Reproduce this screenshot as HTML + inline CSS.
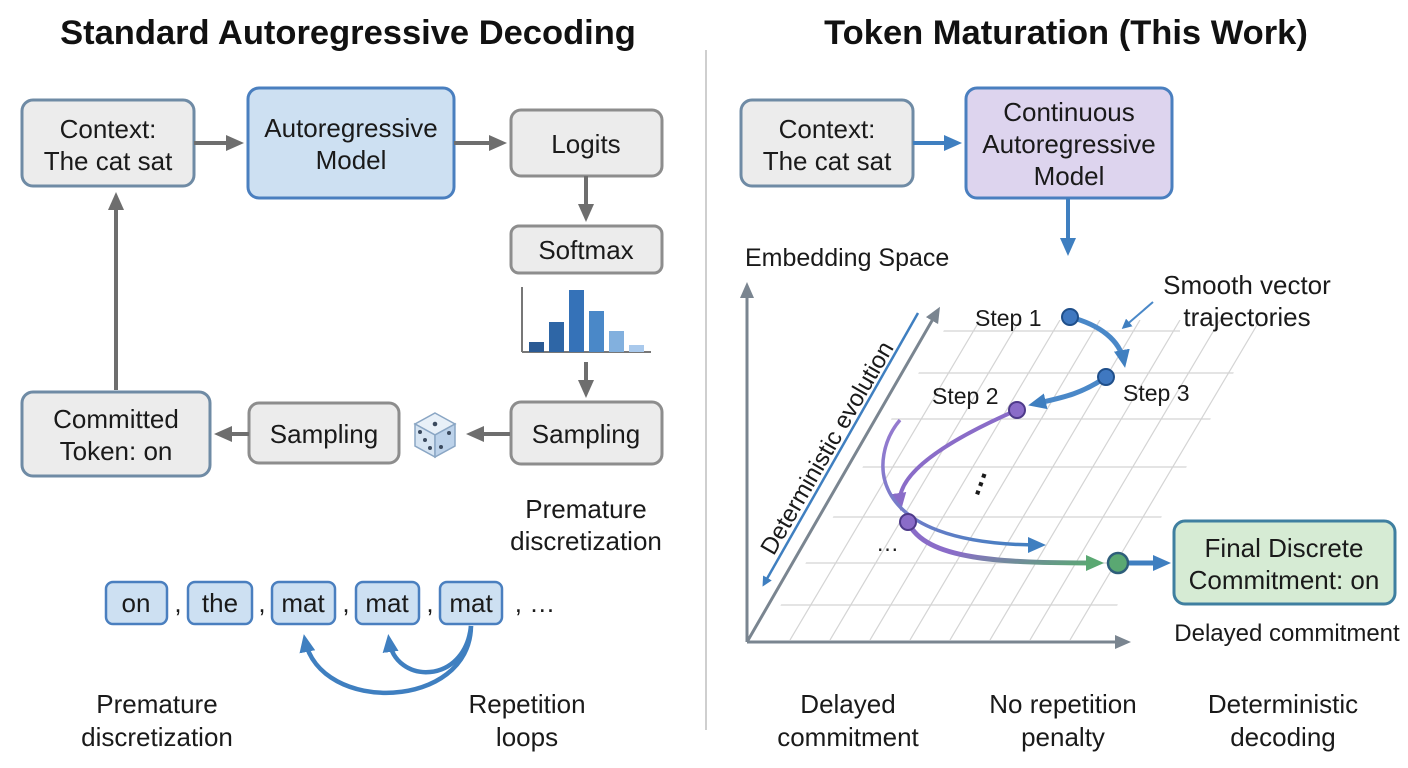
<!DOCTYPE html>
<html><head><meta charset="utf-8"><style>
html,body{margin:0;padding:0;background:#fff;}
svg{display:block;font-family:"Liberation Sans",sans-serif;}
</style></head><body>
<svg width="1408" height="768" viewBox="0 0 1408 768" xmlns="http://www.w3.org/2000/svg">
<defs>
<marker id="ab" markerWidth="10" markerHeight="10" refX="7" refY="5" orient="auto" markerUnits="userSpaceOnUse" viewBox="0 0 10 10"><path d="M0,0 L10,5 L0,10 z" fill="#3f7fc0"/></marker>
<marker id="ag2" markerWidth="18" markerHeight="18" refX="12" refY="9" orient="auto" markerUnits="userSpaceOnUse" viewBox="0 0 18 18"><path d="M0,1 L18,9 L0,17 z" fill="#6e6e6e"/></marker>
<marker id="ab2" markerWidth="18" markerHeight="18" refX="12" refY="9" orient="auto" markerUnits="userSpaceOnUse" viewBox="0 0 18 18"><path d="M0,1 L18,9 L0,17 z" fill="#3f7fc0"/></marker>
<marker id="ap2" markerWidth="18" markerHeight="18" refX="12" refY="9" orient="auto" markerUnits="userSpaceOnUse" viewBox="0 0 18 18"><path d="M0,1 L18,9 L0,17 z" fill="#8a6cc8"/></marker>
<marker id="agr" markerWidth="18" markerHeight="18" refX="12" refY="9" orient="auto" markerUnits="userSpaceOnUse" viewBox="0 0 18 18"><path d="M0,1 L18,9 L0,17 z" fill="#5aa872"/></marker>
<marker id="ax" markerWidth="16" markerHeight="16" refX="10" refY="8" orient="auto" markerUnits="userSpaceOnUse" viewBox="0 0 16 16"><path d="M0,1 L16,8 L0,15 z" fill="#7a8590"/></marker>
<linearGradient id="gtr" x1="0" y1="0" x2="1" y2="1"><stop offset="0" stop-color="#8a6cc8"/><stop offset="0.5" stop-color="#8a6cc8"/><stop offset="1" stop-color="#5aa872"/></linearGradient>
<linearGradient id="gpb" x1="0" y1="0" x2="1" y2="1"><stop offset="0" stop-color="#9a7ad0"/><stop offset="1" stop-color="#3f7fc0"/></linearGradient>
<clipPath id="cp"><path d="M760,640 L950,320 L1260,320 L1100,640 z"/></clipPath>
</defs>

<text x="348" y="44" text-anchor="middle" font-size="34.5" font-weight="bold" fill="#111">Standard Autoregressive Decoding</text>
<text x="1066" y="44" text-anchor="middle" font-size="34.5" font-weight="bold" fill="#111">Token Maturation (This Work)</text>
<line x1="706" y1="50" x2="706" y2="730" stroke="#cfcfcf" stroke-width="2"/>

<g font-size="26" fill="#1a1a1a" text-anchor="middle">
<rect x="22" y="100" width="172" height="86" rx="11" fill="#ececec" stroke="#6f8ba5" stroke-width="3"/>
<text x="108" y="138">Context:</text><text x="108" y="170">The cat sat</text>
<rect x="248" y="88" width="206" height="110" rx="11" fill="#cde0f2" stroke="#4a7fbf" stroke-width="3"/>
<text x="351" y="137">Autoregressive</text><text x="351" y="169">Model</text>
<rect x="511" y="110" width="151" height="66" rx="10" fill="#ececec" stroke="#8d8d8d" stroke-width="3"/>
<text x="586" y="153">Logits</text>
<rect x="511" y="226" width="151" height="47" rx="8" fill="#ececec" stroke="#8d8d8d" stroke-width="3"/>
<text x="586" y="259">Softmax</text>
<rect x="511" y="402" width="151" height="62" rx="10" fill="#ececec" stroke="#8d8d8d" stroke-width="3"/>
<text x="586" y="443">Sampling</text>
<rect x="249" y="403" width="150" height="60" rx="10" fill="#ececec" stroke="#8d8d8d" stroke-width="3"/>
<text x="324" y="443">Sampling</text>
<rect x="22" y="392" width="188" height="84" rx="11" fill="#ececec" stroke="#6f8ba5" stroke-width="3"/>
<text x="116" y="428">Committed</text><text x="116" y="460">Token: on</text>
<text x="586" y="518">Premature</text><text x="586" y="550">discretization</text>
<text x="157" y="713">Premature</text><text x="157" y="746">discretization</text>
<text x="527" y="713">Repetition</text><text x="527" y="746">loops</text>
</g>

<g stroke="#6e6e6e" stroke-width="4" fill="none">
<line x1="194" y1="143" x2="238" y2="143" marker-end="url(#ag2)"/>
<line x1="454" y1="143" x2="501" y2="143" marker-end="url(#ag2)"/>
<line x1="586" y1="176" x2="586" y2="216" marker-end="url(#ag2)"/>
<line x1="586" y1="362" x2="586" y2="392" marker-end="url(#ag2)"/>
<line x1="510" y1="434" x2="472" y2="434" marker-end="url(#ag2)"/>
<line x1="249" y1="434" x2="220" y2="434" marker-end="url(#ag2)"/>
<line x1="116" y1="390" x2="116" y2="198" marker-end="url(#ag2)"/>
</g>

<line x1="522" y1="287" x2="522" y2="352" stroke="#777" stroke-width="2"/>
<line x1="522" y1="352" x2="651" y2="352" stroke="#777" stroke-width="2"/>
<rect x="529" y="342" width="15" height="10" fill="#2a5a94"/>
<rect x="549" y="322" width="15" height="30" fill="#2e66a6"/>
<rect x="569" y="290" width="15" height="62" fill="#3572b8"/>
<rect x="589" y="311" width="15" height="41" fill="#4a88c8"/>
<rect x="609" y="331" width="15" height="21" fill="#82b0de"/>
<rect x="629" y="345" width="15" height="7" fill="#a9c9ec"/>

<g transform="translate(435,435)">
<path d="M0,-22 L20,-11 L0,0 L-20,-11 z" fill="#e8f0f8" stroke="#8aa6c4" stroke-width="1.5"/>
<path d="M-20,-11 L0,0 L0,22 L-20,11 z" fill="#d6e4f2" stroke="#8aa6c4" stroke-width="1.5"/>
<path d="M20,-11 L0,0 L0,22 L20,11 z" fill="#bcd2ea" stroke="#8aa6c4" stroke-width="1.5"/>
<circle cx="0" cy="-11" r="2.3" fill="#3b4a5e"/>
<circle cx="-15" cy="-3" r="2" fill="#3b4a5e"/><circle cx="-10" cy="5" r="2" fill="#3b4a5e"/><circle cx="-5" cy="13" r="2" fill="#3b4a5e"/>
<circle cx="14" cy="-2" r="2" fill="#3b4a5e"/><circle cx="6" cy="12" r="2" fill="#3b4a5e"/>
</g>

<g font-size="26" fill="#1a1a1a" text-anchor="middle">
<rect x="106" y="582" width="61" height="42" rx="7" fill="#cde0f2" stroke="#4a7fbf" stroke-width="2.5"/><text x="136" y="612">on</text>
<text x="178" y="612">,</text>
<rect x="188" y="582" width="64" height="42" rx="7" fill="#cde0f2" stroke="#4a7fbf" stroke-width="2.5"/><text x="220" y="612">the</text>
<text x="262" y="612">,</text>
<rect x="272" y="582" width="63" height="42" rx="7" fill="#cde0f2" stroke="#4a7fbf" stroke-width="2.5"/><text x="303" y="612">mat</text>
<text x="346" y="612">,</text>
<rect x="356" y="582" width="63" height="42" rx="7" fill="#cde0f2" stroke="#4a7fbf" stroke-width="2.5"/><text x="387" y="612">mat</text>
<text x="430" y="612">,</text>
<rect x="440" y="582" width="62" height="42" rx="7" fill="#cde0f2" stroke="#4a7fbf" stroke-width="2.5"/><text x="471" y="612">mat</text>
<text x="535" y="612">, …</text>
</g>
<g stroke="#3f7fc0" stroke-width="4.5" fill="none">
<path d="M471,626 C470,710 320,715 305,640" marker-end="url(#ab2)"/>
<path d="M471,626 C465,685 395,685 389,640" marker-end="url(#ab2)"/>
</g>

<g font-size="26" fill="#1a1a1a" text-anchor="middle">
<rect x="741" y="100" width="172" height="86" rx="11" fill="#ececec" stroke="#6f8ba5" stroke-width="3"/>
<text x="827" y="138">Context:</text><text x="827" y="170">The cat sat</text>
<rect x="966" y="88" width="206" height="110" rx="11" fill="#ddd4ee" stroke="#4a7fbf" stroke-width="3"/>
<text x="1069" y="121">Continuous</text><text x="1069" y="153">Autoregressive</text><text x="1069" y="185">Model</text>
</g>
<g stroke="#3f7fc0" stroke-width="4" fill="none">
<line x1="913" y1="143" x2="956" y2="143" marker-end="url(#ab2)"/>
<line x1="1068" y1="198" x2="1068" y2="250" marker-end="url(#ab2)"/>
</g>
<text x="745" y="266" font-size="25" fill="#1a1a1a">Embedding Space</text>

<g clip-path="url(#cp)" stroke="#d4d4d4" stroke-width="1.2">
<line x1="700" y1="331" x2="1180" y2="331"/><line x1="700" y1="373" x2="1250" y2="373"/>
<line x1="700" y1="419" x2="1230" y2="419"/><line x1="700" y1="467" x2="1210" y2="467"/>
<line x1="700" y1="517" x2="1200" y2="517"/><line x1="700" y1="563" x2="1140" y2="563"/>
<line x1="700" y1="605" x2="1120" y2="605"/>
<line x1="790" y1="640" x2="980" y2="320"/><line x1="830" y1="640" x2="1020" y2="320"/>
<line x1="870" y1="640" x2="1060" y2="320"/><line x1="910" y1="640" x2="1100" y2="320"/>
<line x1="950" y1="640" x2="1140" y2="320"/><line x1="990" y1="640" x2="1180" y2="320"/>
<line x1="1030" y1="640" x2="1220" y2="320"/><line x1="1070" y1="640" x2="1260" y2="320"/>
</g>
<g stroke="#7a8590" stroke-width="3" fill="none">
<line x1="747" y1="642" x2="747" y2="288" marker-end="url(#ax)"/>
<line x1="747" y1="642" x2="1125" y2="642" marker-end="url(#ax)"/>
<line x1="747" y1="642" x2="937" y2="312" marker-end="url(#ax)"/>
</g>
<line x1="918" y1="313" x2="764" y2="584" stroke="#3f7fc0" stroke-width="2.5" marker-end="url(#ab)"/>
<text transform="translate(834,452) rotate(-60)" text-anchor="middle" font-size="24" fill="#1a1a1a">Deterministic evolution</text>

<g fill="none" stroke-width="5">
<path d="M1070,317 C1100,325 1120,340 1124,362" stroke="#4a88c8" marker-end="url(#ab2)"/>
<path d="M1106,377 C1080,395 1060,398 1034,404" stroke="#4a88c8" marker-end="url(#ab2)"/>
<path d="M1017,410 C960,435 895,470 900,505" stroke="#8a6cc8" stroke-width="4" marker-end="url(#ap2)"/>
<path d="M900,420 C870,455 860,545 1040,545" stroke="url(#gpb)" stroke-width="3.5" marker-end="url(#ab2)"/>
<path d="M908,522 C925,560 1000,563 1098,563" stroke="url(#gtr)" marker-end="url(#agr)"/>
<line x1="1128" y1="563" x2="1165" y2="563" stroke="#3f7fc0" marker-end="url(#ab2)"/>
</g>
<line x1="1153" y1="302" x2="1124" y2="327" stroke="#4a88c8" stroke-width="2" marker-end="url(#ab)"/>
<circle cx="1070" cy="317" r="8" fill="#3f78c0" stroke="#1f4f8a" stroke-width="2"/>
<circle cx="1106" cy="377" r="8" fill="#3f78c0" stroke="#1f4f8a" stroke-width="2"/>
<circle cx="1017" cy="410" r="8" fill="#8a6cc8" stroke="#4e3a8a" stroke-width="2"/>
<circle cx="908" cy="522" r="8" fill="#8a6cc8" stroke="#4e3a8a" stroke-width="2"/>
<circle cx="1118" cy="563" r="10" fill="#5aa872" stroke="#2e5e7a" stroke-width="2.5"/>

<g font-size="23" fill="#1a1a1a">
<text x="975" y="326">Step 1</text>
<text x="1123" y="401">Step 3</text>
<text x="932" y="404">Step 2</text>
<text x="876" y="551">…</text>
<text transform="translate(978,498) rotate(-70)" font-size="28" font-weight="bold">…</text>
</g>
<g font-size="26" fill="#1a1a1a" text-anchor="middle">
<text x="1247" y="294">Smooth vector</text><text x="1247" y="326">trajectories</text>
<rect x="1174" y="521" width="221" height="83" rx="11" fill="#d6ebd4" stroke="#3f7fa0" stroke-width="3"/>
<text x="1284" y="557">Final Discrete</text><text x="1284" y="589">Commitment: on</text>
<text x="1287" y="641" font-size="24">Delayed commitment</text>
<text x="848" y="713">Delayed</text><text x="848" y="746">commitment</text>
<text x="1063" y="713">No repetition</text><text x="1063" y="746">penalty</text>
<text x="1283" y="713">Deterministic</text><text x="1283" y="746">decoding</text>
</g>
</svg>
</body></html>
